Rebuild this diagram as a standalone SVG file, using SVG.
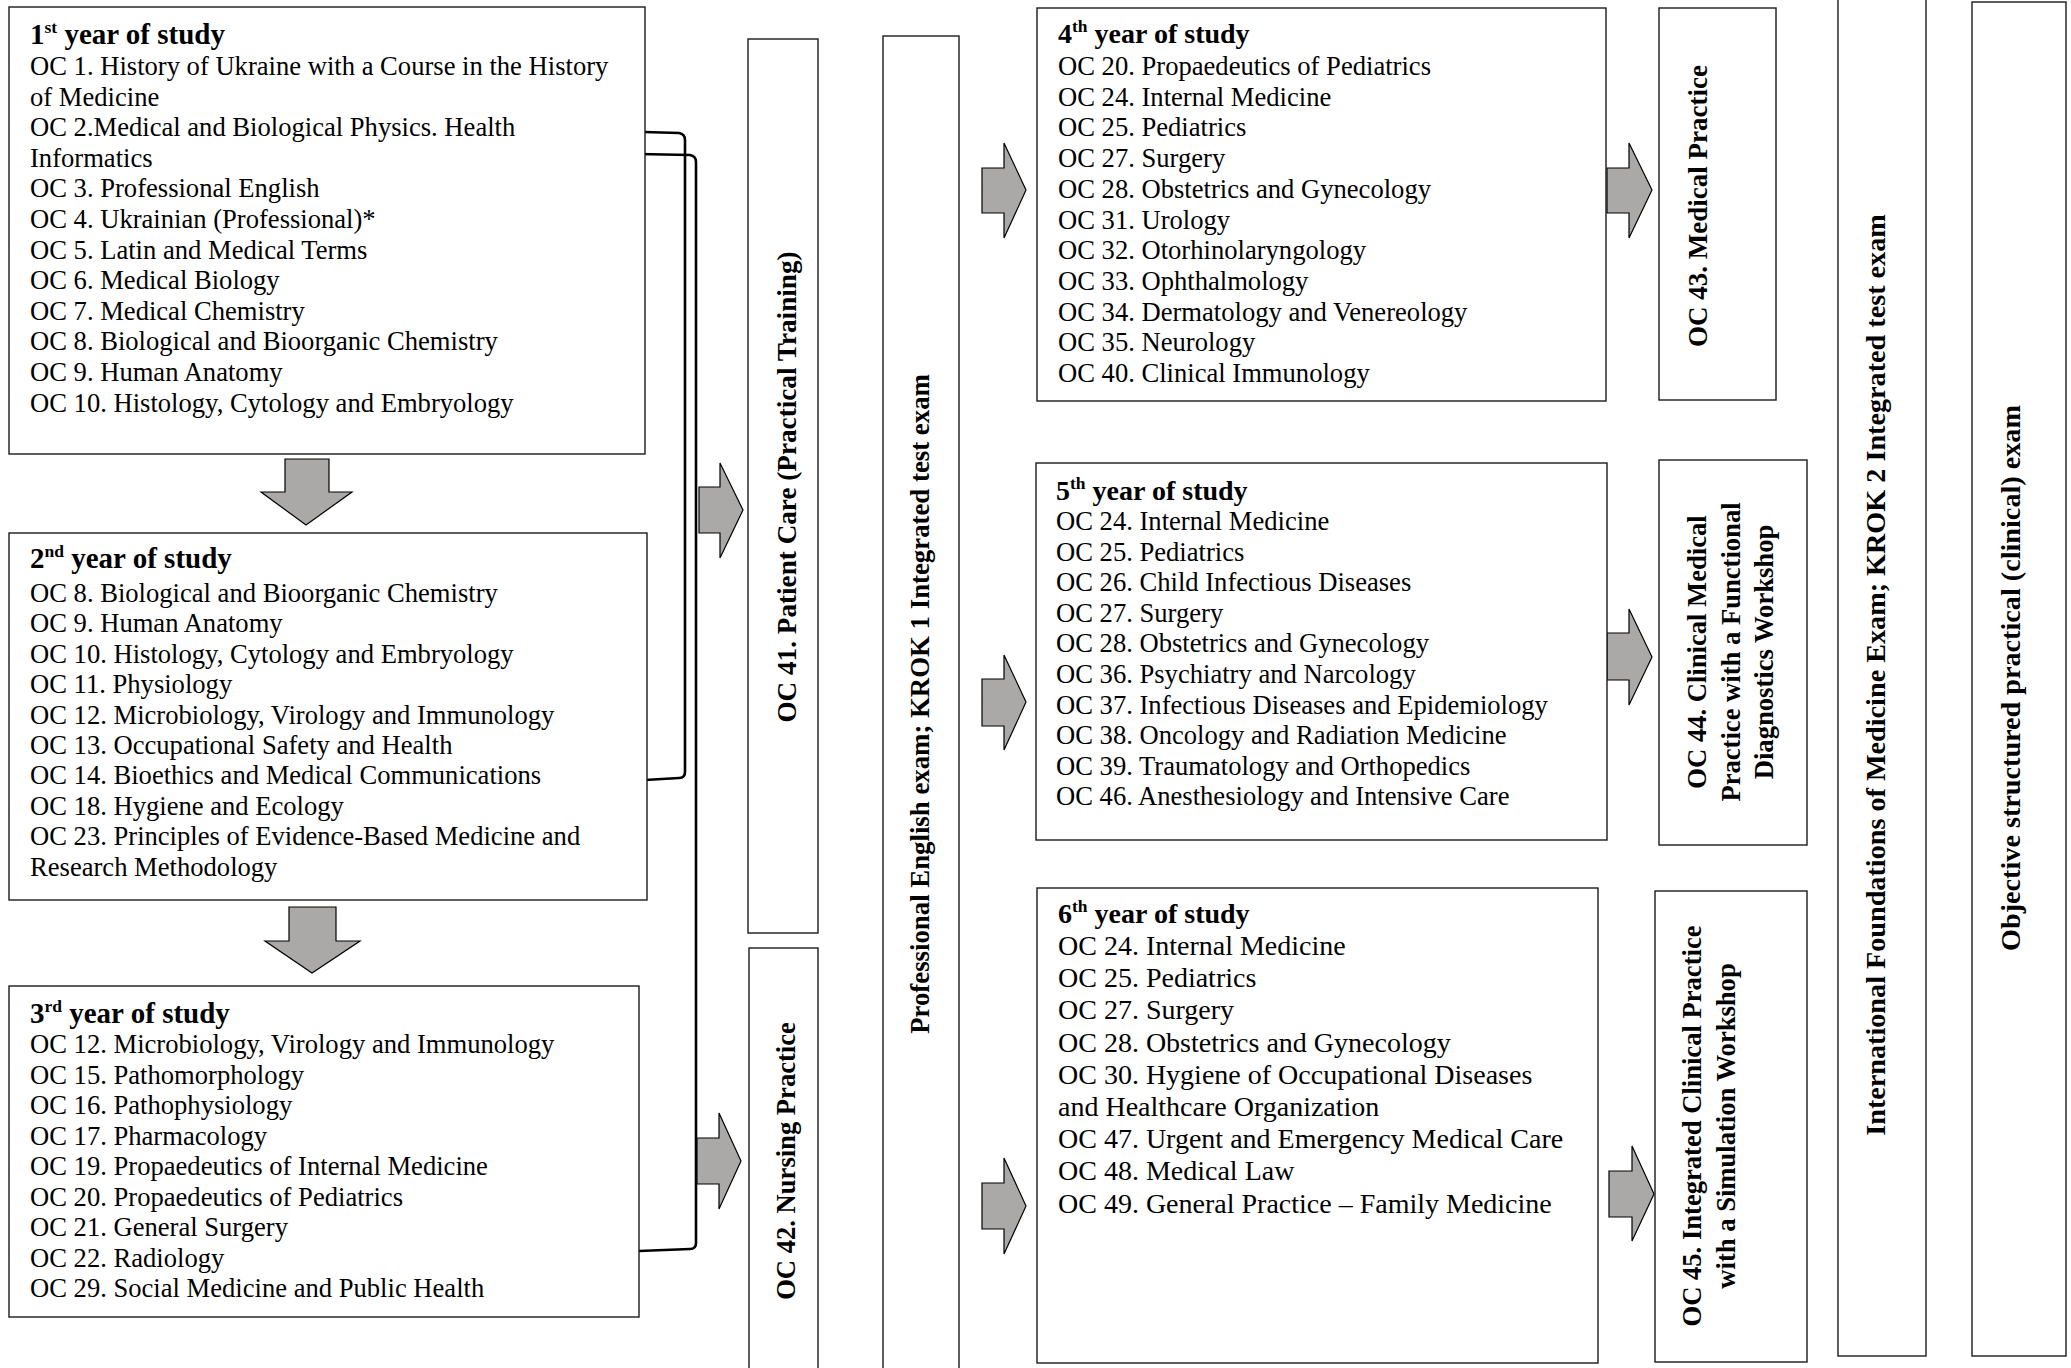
<svg xmlns="http://www.w3.org/2000/svg" width="2071" height="1368" viewBox="0 0 2071 1368">
<style>
.box{fill:#fff;stroke:#1a1a1a;stroke-width:1.4}
.t{font-family:"Liberation Serif","Times New Roman",serif;font-size:26.6px;fill:#000}
.b{font-weight:bold}
.h1{font-size:29px}
.h2{font-size:28px}
.sup{font-size:17.5px}
.big{font-size:28px}
.arr{fill:#ABA9A7;stroke:#000;stroke-width:1.2;stroke-linejoin:miter}
.conn{fill:none;stroke:#000;stroke-width:2.6}
</style>
<rect width="2071" height="1368" fill="#fff"/>

<g id="connectors">
<path class="conn" d="M644,132 L679,133 Q685,134 685,140 L685,772 Q685,778 679,778 L645,780"/>
<path class="conn" d="M638,154 L690,155 Q696,156 696,162 L696,1243 Q696,1249 690,1249 L639,1251"/>
<polygon class="arr" points="285,459 329,459 329,492 352,492 306,525 261,492 285,492"/>
<polygon class="arr" points="289,907 336,907 336,941 360,941 312,973 265,941 289,941"/>
<polygon class="arr" points="699,487 720,487 720,463 743,510 720,558 720,533 699,533"/>
<polygon class="arr" points="697,1138 719,1138 719,1113 741,1161 719,1209 719,1184 697,1184"/>
<polygon class="arr" points="982,168 1004,168 1004,143 1026,190 1004,238 1004,213 982,213"/>
<polygon class="arr" points="982,679 1004,679 1004,655 1026,702 1004,750 1004,726 982,726"/>
<polygon class="arr" points="982,1183 1004,1183 1004,1158 1026,1206 1004,1254 1004,1229 982,1229"/>
<polygon class="arr" points="1607,168 1629,168 1629,143 1652,190 1629,238 1629,213 1607,213"/>
<polygon class="arr" points="1607,633 1629,633 1629,609 1652,657 1629,705 1629,680 1607,680"/>
<polygon class="arr" points="1609,1171 1632,1171 1632,1146 1654,1194 1632,1241 1632,1217 1609,1217"/>
</g>

<g id="year1">
<rect class="box" x="9" y="7" width="636" height="447"/>
<text class="t b h1" x="30" y="44">1<tspan class="sup" dy="-11">st</tspan><tspan dy="11"> year of study</tspan></text>
<text class="t" x="30" y="75">OC 1. History of Ukraine with a Course in the History</text>
<text class="t" x="30" y="105.6">of Medicine</text>
<text class="t" x="30" y="136.2">OC 2.Medical and Biological Physics. Health</text>
<text class="t" x="30" y="166.8">Informatics</text>
<text class="t" x="30" y="197.4">OC 3. Professional English</text>
<text class="t" x="30" y="228">OC 4. Ukrainian (Professional)*</text>
<text class="t" x="30" y="258.6">OC 5. Latin and Medical Terms</text>
<text class="t" x="30" y="289.2">OC 6. Medical Biology</text>
<text class="t" x="30" y="319.8">OC 7. Medical Chemistry</text>
<text class="t" x="30" y="350.4">OC 8. Biological and Bioorganic Chemistry</text>
<text class="t" x="30" y="381">OC 9. Human Anatomy</text>
<text class="t" x="30" y="411.6">OC 10. Histology, Cytology and Embryology</text>
</g>

<g id="year2">
<rect class="box" x="9" y="533" width="638" height="367"/>
<text class="t b h1" x="30" y="568">2<tspan class="sup" dy="-11">nd</tspan><tspan dy="11"> year of study</tspan></text>
<text class="t" x="30" y="602">OC 8. Biological and Bioorganic Chemistry</text>
<text class="t" x="30" y="632.4">OC 9. Human Anatomy</text>
<text class="t" x="30" y="662.8">OC 10. Histology, Cytology and Embryology</text>
<text class="t" x="30" y="693.2">OC 11. Physiology</text>
<text class="t" x="30" y="723.6">OC 12. Microbiology, Virology and Immunology</text>
<text class="t" x="30" y="754">OC 13. Occupational Safety and Health</text>
<text class="t" x="30" y="784.4">OC 14. Bioethics and Medical Communications</text>
<text class="t" x="30" y="814.8">OC 18. Hygiene and Ecology</text>
<text class="t" x="30" y="845.2">OC 23. Principles of Evidence-Based Medicine and</text>
<text class="t" x="30" y="875.6">Research Methodology</text>
</g>

<g id="year3">
<rect class="box" x="9" y="986" width="630" height="331"/>
<text class="t b h1" x="30" y="1023">3<tspan class="sup" dy="-11">rd</tspan><tspan dy="11"> year of study</tspan></text>
<text class="t" x="30" y="1053">OC 12. Microbiology, Virology and Immunology</text>
<text class="t" x="30" y="1083.5">OC 15. Pathomorphology</text>
<text class="t" x="30" y="1114">OC 16. Pathophysiology</text>
<text class="t" x="30" y="1144.5">OC 17. Pharmacology</text>
<text class="t" x="30" y="1175">OC 19. Propaedeutics of Internal Medicine</text>
<text class="t" x="30" y="1205.5">OC 20. Propaedeutics of Pediatrics</text>
<text class="t" x="30" y="1236">OC 21. General Surgery</text>
<text class="t" x="30" y="1266.5">OC 22. Radiology</text>
<text class="t" x="30" y="1297">OC 29. Social Medicine and Public Health</text>
</g>

<g id="oc41">
<rect class="box" x="748" y="39" width="70" height="894"/>
<text class="t b" style="font-size:27.2px" text-anchor="middle" transform="translate(796,487) rotate(-90)">OC 41. Patient Care (Practical Training)</text>
</g>

<g id="oc42">
<rect class="box" x="749" y="948" width="69" height="440"/>
<text class="t b" text-anchor="middle" transform="translate(795,1161) rotate(-90)">OC 42. Nursing Practice</text>
</g>

<g id="krok1">
<rect class="box" x="883" y="36" width="76" height="1350"/>
<text class="t b" style="font-size:26.8px" text-anchor="middle" transform="translate(929,704) rotate(-90)">Professional English exam; KROK 1 Integrated test exam</text>
</g>

<g id="year4">
<rect class="box" x="1037" y="8" width="569" height="393"/>
<text class="t b h2" x="1058" y="43">4<tspan class="sup" dy="-11">th</tspan><tspan dy="11"> year of study</tspan></text>
<text class="t" x="1058" y="75">OC 20. Propaedeutics of Pediatrics</text>
<text class="t" x="1058" y="105.7">OC 24. Internal Medicine</text>
<text class="t" x="1058" y="136.4">OC 25. Pediatrics</text>
<text class="t" x="1058" y="167.1">OC 27. Surgery</text>
<text class="t" x="1058" y="197.8">OC 28. Obstetrics and Gynecology</text>
<text class="t" x="1058" y="228.5">OC 31. Urology</text>
<text class="t" x="1058" y="259.2">OC 32. Otorhinolaryngology</text>
<text class="t" x="1058" y="289.9">OC 33. Ophthalmology</text>
<text class="t" x="1058" y="320.6">OC 34. Dermatology and Venereology</text>
<text class="t" x="1058" y="351.3">OC 35. Neurology</text>
<text class="t" x="1058" y="382">OC 40. Clinical Immunology</text>
</g>

<g id="year5">
<rect class="box" x="1036" y="463" width="571" height="377"/>
<text class="t b h2" x="1056" y="500">5<tspan class="sup" dy="-11">th</tspan><tspan dy="11"> year of study</tspan></text>
<text class="t" x="1056" y="530">OC 24. Internal Medicine</text>
<text class="t" x="1056" y="560.6">OC 25. Pediatrics</text>
<text class="t" x="1056" y="591.2">OC 26. Child Infectious Diseases</text>
<text class="t" x="1056" y="621.8">OC 27. Surgery</text>
<text class="t" x="1056" y="652.4">OC 28. Obstetrics and Gynecology</text>
<text class="t" x="1056" y="683">OC 36. Psychiatry and Narcology</text>
<text class="t" x="1056" y="713.6">OC 37. Infectious Diseases and Epidemiology</text>
<text class="t" x="1056" y="744.2">OC 38. Oncology and Radiation Medicine</text>
<text class="t" x="1056" y="774.8">OC 39. Traumatology and Orthopedics</text>
<text class="t" x="1056" y="805.4">OC 46. Anesthesiology and Intensive Care</text>
</g>

<g id="year6">
<rect class="box" x="1037" y="888" width="561" height="475"/>
<text class="t b h2" x="1058" y="923">6<tspan class="sup" dy="-11">th</tspan><tspan dy="11"> year of study</tspan></text>
<text class="t big" x="1058" y="955">OC 24. Internal Medicine</text>
<text class="t big" x="1058" y="987.2">OC 25. Pediatrics</text>
<text class="t big" x="1058" y="1019.4">OC 27. Surgery</text>
<text class="t big" x="1058" y="1051.6">OC 28. Obstetrics and Gynecology</text>
<text class="t big" x="1058" y="1083.8">OC 30. Hygiene of Occupational Diseases</text>
<text class="t big" x="1058" y="1116">and Healthcare Organization</text>
<text class="t big" x="1058" y="1148.2">OC 47. Urgent and Emergency Medical Care</text>
<text class="t big" x="1058" y="1180.4">OC 48. Medical Law</text>
<text class="t big" x="1058" y="1212.6">OC 49. General Practice – Family Medicine</text>
</g>

<g id="oc43">
<rect class="box" x="1659" y="8" width="117" height="392"/>
<text class="t b" style="font-size:27px" text-anchor="middle" transform="translate(1707,206) rotate(-90)">OC 43. Medical Practice</text>
</g>

<g id="oc44">
<rect class="box" x="1659" y="460" width="148" height="385"/>
<g transform="translate(1706,652) rotate(-90)">
<text class="t b" text-anchor="middle" x="0" y="0">OC 44. Clinical Medical</text>
<text class="t b" text-anchor="middle" x="0" y="33.5">Practice with a Functional</text>
<text class="t b" text-anchor="middle" x="0" y="67">Diagnostics Workshop</text>
</g>
</g>

<g id="oc45">
<rect class="box" x="1655" y="891" width="152" height="471"/>
<g transform="translate(1701,1126) rotate(-90)">
<text class="t b" text-anchor="middle" x="0" y="0">OC 45. Integrated Clinical Practice</text>
<text class="t b" text-anchor="middle" x="0" y="34">with a Simulation Workshop</text>
</g>
</g>

<g id="krok2">
<rect class="box" x="1838" y="-5" width="88" height="1361"/>
<text class="t b" style="font-size:28.2px" text-anchor="middle" transform="translate(1885,675) rotate(-90)">International Foundations of Medicine Exam; KROK 2 Integrated test exam</text>
</g>

<g id="osce">
<rect class="box" x="1972" y="2" width="94" height="1354"/>
<text class="t b" style="font-size:28.2px" text-anchor="middle" transform="translate(2020,678) rotate(-90)">Objective structured practical (clinical) exam</text>
</g>
</svg>
